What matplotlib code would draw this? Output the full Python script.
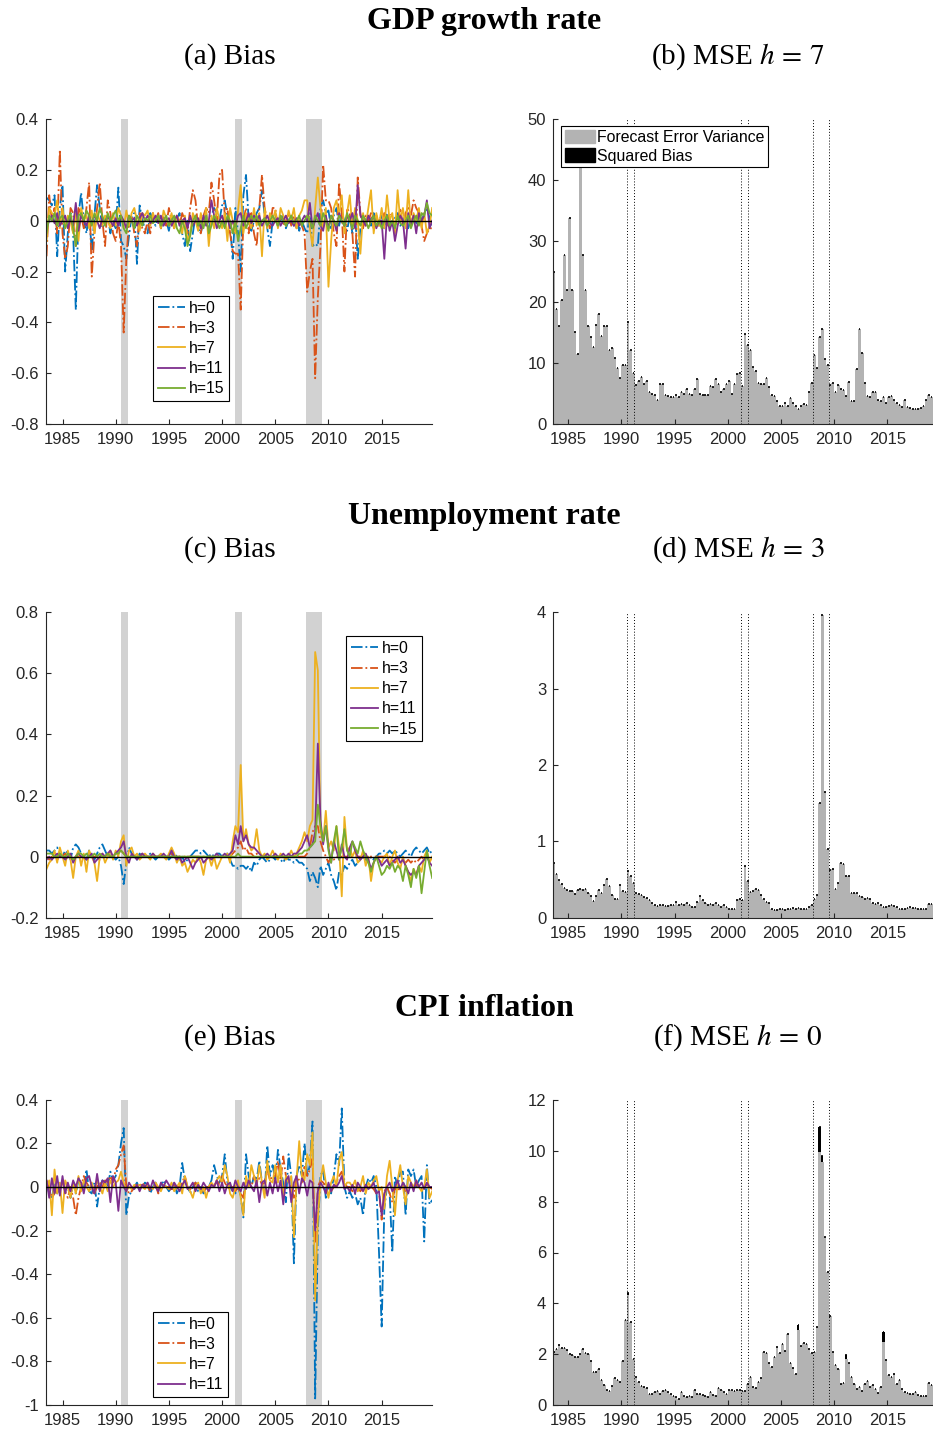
import numpy as np
import matplotlib
matplotlib.use('Agg')
import matplotlib.pyplot as plt
from matplotlib.patches import Patch

plt.rcParams['font.family'] = 'Liberation Sans'
plt.rcParams['mathtext.fontset'] = 'stix'
plt.rcParams['axes.unicode_minus'] = False

W, H = 933, 1431

# quarterly dates of the bias lines, 1983Q3 .. 2019Q4
dates = 1983.5 + 0.25 * np.arange(146)
# quarterly bars of the MSE panels
bar_dates = 1983.5 + 0.25 * np.arange(144)

rec_start = [1990.5, 2001.17, 2007.92]
rec_end = [1991.17, 2001.83, 2009.42]

labels5 = ['h=0', 'h=3', 'h=7', 'h=11', 'h=15']

# ---------------- GDP growth: bias by horizon (x 0.01) ----------------
gdp_h0 = np.array([9, 8, 6, 10, -14, 5, 14, -20, -5, 3, -5, -35, 2, 11, 0, -5, 3, -12,
    2, 14, 5, -3, 0, 2, -5, 0, -3, 13, -8, -10, -15, -6, 2, 3, -17, 6, 0, -3,
    -5, 3, 0, -2, 2, -3, 1, 0, -4, 2, -2, 0, 3, -5, -10, 0, -12, -5, 2, -3,
    -5, 0, 3, -4, 2, 5, 3, 0, 6, 8, 2, -2, -15, 5, -5, -20, 10, 18, 0, -4,
    0, 3, 5, 12, 2, -3, -10, 0, 3, -2, 0, 2, -3, 0, 2, -2, 1, -4, 0, -3,
    -5, 3, -10, -9, -10, 5, 8, 3, 4, -3, 2, 5, -2, 3, 0, -4, 2, -5, 3, -15,
    -3, 2, 0, 2, -2, 3, -1, 0, 2, -3, 3, 0, -2, 1, 3, -2, 0, 2, -3, 1,
    2, -1, 3, 0, 3, 5, 1, -2]) / 100
gdp_h3 = np.array([-14, 10, 0, 5, -5, 28, -5, -15, -10, 5, 3, -10, 5, 2, -3, 5, 15, -22,
    -5, 5, 15, 0, -10, 8, 3, -5, -8, 0, -10, -44, -15, 0, 2, -5, -10, 3, -3, -5,
    0, -5, 3, 0, 3, -3, 2, -2, 5, 0, -3, 2, -2, 3, 0, -5, 5, 12, 8, -3,
    -5, 2, 5, 3, 15, 8, 0, 18, 20, 2, 5, -5, -12, -13, -13, -35, 0, 5, -5, 3,
    -5, -10, 5, 18, 5, 0, -3, 5, 5, -3, 2, -2, 0, 3, -2, 2, -3, 0, -2, -5,
    -28, -20, -15, -62, -30, -10, 22, 8, 8, 5, -5, -10, 15, 3, -20, 5, 3, -5, -22, 17,
    3, -3, 2, 0, 3, -3, 2, -2, 0, 3, -2, 3, 2, -3, 0, 5, -2, 3, 5, 2,
    8, 5, 3, -2, -8, -5, -3, -3]) / 100
gdp_h7 = np.array([-8, 5, 3, 2, 8, -3, 5, -3, 2, 0, -5, 3, -8, 5, 0, 2, -3, 4,
    -5, 3, 0, -2, 2, 0, -3, 3, -2, 5, 2, -3, 4, -2, 3, 5, 0, -4, 3, 2,
    4, -2, 3, 0, 2, -3, 4, 1, -2, 3, -3, 2, 0, -5, 2, -8, -5, 3, 0, -4,
    3, -2, 5, -10, 2, -3, 5, 0, -3, 3, -8, 5, 0, -5, 4, 14, -5, 3, 0, -3,
    5, -2, 3, -14, 5, -3, 3, 0, 4, -3, 5, 2, -2, 4, 0, 5, -3, 2, 4, 8,
    8, -3, -10, 5, 17, 5, -3, 5, -26, -8, 5, 8, 2, 10, -5, 3, 10, -3, 5, 0,
    -13, 3, -2, 5, 12, -5, 3, -2, 5, -3, 10, 0, 3, -5, 12, 0, 5, -3, 12, -2,
    3, 0, 5, -3, 3, -5, -2, 5]) / 100
gdp_h11 = np.array([-3, 0, 2, -1, 3, -2, 0, 2, -3, 1, -2, 7, -4, 2, 0, -2, 2, -1,
    2, 0, -3, 1, -1, 2, 0, -2, 1, -2, 2, 0, -3, 2, 0, 1, -2, 1, 3, 0,
    2, -1, 0, 2, -1, 2, -2, 0, 1, -2, 0, 2, -2, 0, 1, -3, 2, -2, 0, 1,
    -3, 2, -2, 0, 8, 2, -3, 0, 2, -2, 1, -3, 0, -2, 2, 3, -2, 0, 3, -1,
    2, 0, 2, -2, 0, 2, -1, -2, 0, 1, -2, 0, 2, -1, 0, -2, 1, -2, 0, 2,
    0, 7, -3, 0, 3, -2, -4, 2, -3, 2, 0, -4, 3, 0, -2, 2, 0, 3, -3, 14,
    2, 0, -2, 2, 0, 2, -3, 0, 0, -15, 2, -4, 0, -8, -2, 2, 0, -11, 3, -2,
    2, -5, 3, 0, 2, 8, -3, 0]) / 100
gdp_h15 = np.array([-5, 2, 0, 3, -2, 1, 2, -3, 0, 3, -3, -10, 2, 3, 0, 4, 2, -2,
    3, 0, 5, 2, -2, 3, 0, 2, 4, 0, 2, -3, -5, 2, 0, -3, 2, 0, -2, 1,
    0, 2, -1, 0, 2, -2, 0, 2, -2, 0, 2, -3, -5, 0, -3, -10, -6, 0, 2, -2,
    0, -3, 2, -5, -2, 2, 0, -3, 0, -3, 2, 0, -5, 0, -8, -3, 2, -3, 0, 2,
    0, 2, -2, 0, 1, -2, 0, 2, 0, -2, 2, 0, -2, 0, 2, -1, 0, 2, -2, 0,
    2, 0, -3, 2, 0, -2, 3, 0, -4, 2, 0, -2, 2, 0, -2, 3, 0, -3, 2, 0,
    -2, 2, 0, -3, 0, 2, -2, 0, -3, 0, 2, -2, 0, -3, 2, -1, -2, 0, 2, -3,
    0, 2, -2, 3, 2, 7, 3, 2]) / 100

# ---------------- Unemployment: bias by horizon (x 0.01) ----------------
un_h0 = np.array([2, 2, 1, 2, 3, 1, 0, 2, 1, -1, 3, 4, 3, 1, 0, -1, 2, 0,
    -1, 1, 3, 4, 2, 0, 1, 0, -1, 0, -3, -9, -2, 3, 1, 0, -1, 1, 0, 0,
    0, 1, 0, -1, 0, 1, 0, 0, -1, 0, 1, 0, -1, 0, -2, -1, 0, 1, 2, 2,
    1, 2, 1, 0, 1, 0, 1, 1, 0, 1, 1, -1, -3, -3, -4, -3, -3, -4, -3, -5,
    -2, -3, -1, 0, -1, -2, -1, 0, -1, 0, -1, -2, 0, -1, -1, -2, -1, -2, -2, -3,
    -4, -8, -5, -7, -10, -3, -6, -4, -2, -6, -8, -11, -5, -6, -3, -4, -2, -1, -3, -2,
    -1, 0, -1, -2, 0, -1, 0, 1, 1, 2, 1, 2, 1, 2, 1, 0, 1, 2, 1, 0,
    2, 3, 2, 1, 2, 3, 1, 2]) / 100
un_h3 = np.array([0, -1, 0, 0, -1, 0, 0, 1, 0, 0, -1, 0, 0, 0, 0, 0, 1, 0,
    0, 0, -1, 0, 0, 1, 0, 0, 0, 1, 2, 1, 0, 0, 0, 0, 0, 0, 1, 0,
    0, 0, 0, 0, 0, 0, 0, 0, 0, 1, 0, 0, 0, 0, 0, 0, 0, 0, 0, 0,
    0, 0, 0, 0, 0, 0, 0, 0, 0, 0, 0, 0, 1, 2, 3, 5, 2, 3, 1, 1,
    0, 1, 0, 0, 0, 0, 0, 0, 0, 0, 0, 0, 0, 0, 0, 0, 0, 0, 0, 0,
    1, 3, 8, 10, 10, 5, 2, 0, -2, 0, -1, 0, 0, 0, 0, 0, 0, 0, 0, 0,
    0, 0, 0, 0, 0, 0, 0, 0, 0, 0, 0, 0, -1, -2, -1, 0, -1, -2, -1, -2,
    -1, -2, -1, 0, -1, 0, 0, -1]) / 100
un_h7 = np.array([-4, -2, -1, 2, -2, 3, 0, -3, 2, -1, -7, 0, 2, -3, 1, -5, 2, 0,
    -2, -8, 0, 1, -2, 0, 2, -1, 2, 0, 5, 7, -3, 2, 3, 0, 1, -1, 0, 1,
    0, -1, 1, 0, 0, 1, 0, -1, 1, 3, 1, -2, 0, -3, -2, -5, -3, -1, -2, 0,
    -2, -6, -1, 0, -3, 0, -4, -2, 0, 0, 1, -2, 5, 10, 8, 30, 5, 9, 4, 2,
    3, 9, 2, 0, 1, -1, 0, 2, 0, -1, 1, 0, -1, 0, 2, 0, 1, 3, 5, 8,
    5, 10, 12, 67, 61, 8, 5, 15, 3, 5, 2, 10, 3, -13, 13, 2, 3, 0, 2, -2,
    -1, 2, -3, 0, -8, -2, 0, -1, -2, 0, 1, -3, 0, 2, -2, -4, 0, -3, -5, -8,
    -4, -6, -3, -5, 0, 2, -2, 0]) / 100
un_h11 = np.array([-1, 0, -1, 0, 1, 0, 0, -1, 0, 1, -2, 0, 1, 0, 0, -1, 0, 1,
    -2, -1, 0, 1, 0, 1, 2, 0, 1, 2, 3, 5, 0, -2, 1, 0, -1, 0, 1, 0,
    0, 0, 1, 0, 0, 0, 1, 0, 0, 2, 0, -1, 0, -2, -1, 0, -2, -4, -2, -1,
    0, -2, -1, 0, -1, 0, 1, 0, 0, 1, 0, 1, 2, 7, 4, 10, 5, 7, 4, 3,
    3, 2, 1, 0, 0, 1, 0, 0, 1, 0, 0, 1, 0, 1, 0, 1, 1, 2, 3, 5,
    7, 3, 4, 8, 37, 12, 4, 10, 3, -2, 5, 2, -1, 4, 0, -1, 3, 5, 2, 0,
    -1, 0, 1, -1, -4, -2, 0, -1, -3, -2, -1, -3, -2, -1, 0, -2, -1, -3, -5, -6,
    -5, -6, -3, -2, -1, 0, -2, -3]) / 100
un_h15 = np.array([1, 1, 1, 0, 0, 1, 0, 0, 1, 0, -1, 0, 1, 1, 0, 1, 0, 0,
    1, 0, 1, 0, 0, 1, 0, 0, 1, 1, 2, 1, 0, 0, 0, 0, 0, 0, 0, 0,
    0, 0, 0, 0, 0, 0, 0, 0, 0, 0, 0, 0, 0, 0, 0, 0, 0, 0, 0, 0,
    0, 0, 0, 0, 0, 0, 0, 0, 0, 0, 0, 0, 0, 0, 1, 0, 0, 0, 0, 0,
    0, 0, 0, 0, 0, 0, 0, 0, 0, 0, 0, 0, 0, 0, 0, 0, 0, 1, 1, 2,
    2, 3, 4, 5, 17, 10, 5, 10, 2, -2, 5, 10, -1, 3, 9, 2, 0, 5, 3, 1,
    5, 2, 0, -2, -5, -2, 0, -3, -6, -5, -3, -4, -2, -5, -3, -4, -8, -3, -6, -10,
    -4, -7, -3, -12, -5, 2, -3, -7]) / 100

# ---------------- CPI inflation: bias by horizon (x 0.01) ----------------
cpi_h0 = np.array([2, -3, -5, 2, -3, 0, 3, -2, 0, -5, 2, -3, 3, 0, 0, 8, -2, -3,
    2, -9, 0, 3, 2, 0, 7, 3, 5, 10, 20, 27, -13, -4, -2, 0, 2, -1, 0, 2,
    1, -3, 0, 2, -2, 1, 3, 0, -2, 0, 2, -3, 0, 11, 3, 0, -3, 0, 2, -2,
    0, -3, -2, 0, 3, 10, 5, 2, 5, 15, 2, 0, -2, -3, 0, -4, -14, 15, 5, 0,
    5, 3, 12, 2, -3, 19, 5, 10, 3, 17, 8, 2, -7, 15, 5, -35, 5, 10, 5, 20,
    5, 10, 30, -97, -20, 5, 8, -5, 0, -3, 5, 15, 10, 36, 0, -5, -2, -5, -3, -8,
    -5, -13, 0, 4, 2, 5, 0, -30, -64, -10, 0, -3, -30, 5, 0, 7, 7, -13, 8, 5,
    8, 0, 3, 5, -25, 10, -8, -6]) / 100
cpi_h3 = np.array([3, 0, -5, -3, 0, 2, 2, -2, -5, 0, -5, -13, -5, 0, 5, 2, 0, -2,
    -3, 0, 2, 0, 3, 2, 5, 2, 8, 10, 15, 19, 0, -3, -2, 0, 1, 0, 2, 0,
    0, -2, 0, 1, -3, 0, 1, 0, 0, -2, 1, 0, 0, 2, 5, 0, -1, 0, 2, 0,
    -2, -3, 0, 0, 2, 0, 3, 1, 5, 2, 0, -1, 0, -2, 0, -3, -5, 3, 2, 0,
    5, 2, 4, 1, 2, 8, 3, 5, 5, 12, 3, 14, 5, 3, 0, -5, 5, 3, 2, 10,
    5, 8, 13, -26, 0, 3, 2, 0, 0, -2, 0, 2, 5, 7, 2, 0, 0, -2, 1, 0,
    -2, 0, -1, 0, 0, -1, -3, -2, -15, -2, 0, -3, -7, 0, -2, 0, 0, -2, 0, 1,
    0, 1, 0, -1, 0, 1, 0, -1]) / 100
cpi_h7 = np.array([0, 3, -13, 8, -3, 2, -12, 3, 0, -5, 2, -3, 5, -2, 3, 0, -2, 2,
    -2, 3, 0, -3, 2, -2, 3, 0, 2, 3, 7, 2, -2, 0, -1, 1, 0, 1, 0, -1,
    1, 0, -1, 2, 0, -2, 1, 0, -1, 2, -2, 0, 2, -3, 5, 0, -2, -5, 0, 2,
    -3, 0, -5, 0, 2, 0, 3, 5, 2, 10, 5, -3, -5, 0, 3, -5, -13, 5, 0, 10,
    5, 0, 10, 2, -5, 12, 3, 2, 10, 2, 10, -5, 5, 2, 5, -23, 3, 21, 5, 3,
    15, 10, 25, -52, -15, 3, 10, 2, -5, 2, 5, 0, 12, 16, 0, 2, 2, 0, 3, -2,
    0, 5, -3, 2, 0, 3, 5, -2, 0, -10, 5, 12, 0, -13, 3, 10, 0, -8, 5, 2,
    0, 3, 0, -2, 0, 8, -5, -2]) / 100
cpi_h11 = np.array([3, -5, 4, -3, 5, -4, 5, -3, 2, -2, 3, 0, 4, 2, -3, 4, 5, 0,
    -3, 6, -2, 3, 2, 4, -7, 5, 2, -11, 3, 0, -2, 2, 0, -1, 1, -2, 1, 0,
    2, -1, 3, 0, -2, 2, 0, 3, 1, -1, 2, 0, -2, 1, 3, -1, 0, 2, -2, 1,
    -1, 2, 0, -2, 1, 0, 3, -2, 2, -3, 1, 2, -2, 3, 0, -2, 2, -1, 3, 0,
    -2, 3, -7, 2, 3, -4, 2, -3, 4, -2, 3, -8, 3, 5, -7, 2, 5, -3, 4, 2,
    -4, 3, 2, -20, -2, 2, 0, -3, 2, -2, 1, 0, 2, 5, -1, 0, -2, 1, -3, 2,
    0, -2, 1, -1, 0, 2, -3, -2, -13, -3, 0, 2, -2, 0, 3, -1, 2, 0, -3, 2,
    -2, 3, 0, 2, -1, 2, 0, 0]) / 100

# ---------------- MSE bars ----------------
mse_gdp = np.array([25, 18.8, 16, 20.4, 27.7, 22, 33.7, 22, 15.1, 11.4, 45, 27.7, 22, 16,
    14.3, 12.7, 16.2, 18, 14.4, 16.1, 16.1, 12.2, 12.4, 10.9, 9.1, 7.5, 9.7, 9.7, 16.8,
    12.2, 8.4, 6.4, 7.0, 7.7, 6.5, 7.0, 5.3, 5.0, 4.8, 4.0, 6.5, 6.5, 4.8, 4.6,
    4.4, 4.5, 4.7, 4.5, 5.3, 5.0, 5.8, 5.0, 4.8, 5.8, 7.3, 5.0, 4.8, 4.8, 4.8,
    6.3, 6.0, 7.4, 6.5, 5.2, 5.8, 6.5, 7.0, 5.0, 6.5, 8.2, 8.3, 6.2,
    14.8, 13, 12.1, 9.4, 8.7, 6.7, 6.6, 6.6, 7.5, 6.1, 4.8, 4.6, 3.7, 3.0, 3.0,
    3.5, 3.0, 4.2, 3.4, 3.0, 2.5, 3.0, 3.3, 3.1, 5.3, 6.7, 11.3, 9.1, 14.2, 15.6,
    10.7, 9.6, 6.4, 6.8, 5.2, 6.4, 5.8, 5.6, 4.6, 6.9, 3.8, 3.8, 9.0, 15.5, 11.7,
    6.8, 4.6, 4.4, 5.3, 5.3, 3.9, 3.8, 4.5, 3.5, 4.5, 4.6, 3.9, 3.5, 3.1, 2.8,
    4.0, 2.8, 2.6, 2.5, 2.5, 2.4, 2.6, 3.0, 3.9, 4.8, 4.5, 4.2])
mse_un = np.array([0.71, 0.57, 0.49, 0.44, 0.39, 0.36, 0.35, 0.35, 0.31, 0.36,
    0.37, 0.36, 0.38, 0.33, 0.28, 0.22, 0.28, 0.36, 0.32, 0.43,
    0.51, 0.41, 0.30, 0.24, 0.24, 0.43, 0.35, 0.34, 0.61, 0.55,
    0.46, 0.33, 0.31, 0.30, 0.27, 0.26, 0.23, 0.19, 0.16, 0.15,
    0.17, 0.16, 0.15, 0.15, 0.16, 0.17, 0.21, 0.17, 0.18, 0.17,
    0.19, 0.17, 0.14, 0.14, 0.20, 0.28, 0.23, 0.19, 0.17, 0.18,
    0.17, 0.19, 0.17, 0.14, 0.16, 0.14, 0.12, 0.12, 0.12, 0.23,
    0.25, 0.23, 0.68, 0.48, 0.34, 0.35, 0.38, 0.36, 0.30, 0.25,
    0.21, 0.19, 0.12, 0.10, 0.10, 0.11, 0.11, 0.10, 0.11, 0.12,
    0.13, 0.12, 0.13, 0.12, 0.12, 0.11, 0.14, 0.17, 0.25, 0.30,
    1.50, 3.96, 1.65, 0.90, 0.62, 0.64, 0.37, 0.46, 0.72, 0.70,
    0.54, 0.54, 0.33, 0.33, 0.33, 0.28, 0.27, 0.25, 0.26, 0.25,
    0.19, 0.18, 0.19, 0.16, 0.14, 0.14, 0.15, 0.17, 0.15, 0.14,
    0.12, 0.12, 0.12, 0.13, 0.14, 0.13, 0.13, 0.12, 0.11, 0.11,
    0.12, 0.18, 0.18, 0.18])
mse_cpi = np.array([2.1, 2.2, 2.35, 2.25, 2.25, 2.15, 2.0, 1.95, 1.9, 1.9,
    2.0, 2.2, 2.05, 2.0, 1.75, 1.3, 1.3, 1.4, 1.0, 0.8,
    0.6, 0.55, 0.75, 1.05, 1.0, 0.9, 1.75, 3.35, 4.4, 3.25,
    1.8, 1.1, 0.9, 0.75, 0.7, 0.65, 0.45, 0.45, 0.5, 0.55,
    0.45, 0.55, 0.6, 0.5, 0.45, 0.35, 0.3, 0.25, 0.5, 0.35,
    0.3, 0.35, 0.3, 0.6, 0.45, 0.45, 0.4, 0.35, 0.3, 0.5,
    0.4, 0.35, 0.65, 0.6, 0.5, 0.45, 0.6, 0.6, 0.55, 0.6,
    0.6, 0.56, 0.56, 0.83, 1.09, 0.72, 0.65, 0.92, 1.05, 2.1,
    2.03, 1.67, 1.5, 1.88, 2.27, 2.06, 2.4, 2.14, 2.79, 1.64,
    1.47, 1.22, 3.13, 2.32, 2.43, 2.39, 2.19, 2.03, 2.1, 3.06,
    10.95, 9.8, 6.62, 5.22, 3.5, 2.07, 1.56, 1.43, 0.83, 0.88,
    1.95, 1.64, 1.09, 0.83, 0.62, 0.72, 0.55, 0.83, 0.94, 0.7,
    0.79, 0.62, 0.46, 0.72, 2.89, 1.77, 1.18, 1.11, 1.22, 0.83,
    1.0, 0.62, 0.52, 0.49, 0.43, 0.43, 0.51, 0.39, 0.35, 0.37,
    0.36, 0.85, 0.8, 0.8])
# squared bias part of the MSE (mostly negligible)
sqb_gdp = np.zeros(144)
sqb_un = np.zeros(144)
sqb_cpi = np.zeros(144)
sqb_cpi[[28, 92, 100, 101, 110, 124]] = [0.08, 0.16, 1.0, 0.25, 0.15, 0.43]

colors = ['#0072BD', '#D95319', '#EDB120', '#7E2F8E', '#77AC30']
styles = ['-.', '-.', '-', '-', '-']
AXC = '#262626'


def add_ax(x0, x1, y0, y1):
    return fig.add_axes([x0 / W, 1 - y1 / H, (x1 - x0) / W, (y1 - y0) / H])


def style_ax(ax, yticks, xlim):
    ax.set_xlim(*xlim)
    ax.set_xticks([1985, 1990, 1995, 2000, 2005, 2010, 2015])
    ax.set_yticks(yticks)
    ax.set_yticklabels(['%g' % (round(v, 2) + 0.0) for v in yticks])
    for s in ['top', 'right']:
        ax.spines[s].set_visible(False)
    for s in ['left', 'bottom']:
        ax.spines[s].set_color(AXC)
        ax.spines[s].set_linewidth(0.8)
    ax.tick_params(direction='in', length=3.5, width=0.8, colors=AXC,
                   labelsize=12, labelcolor=AXC)
    ax.tick_params(axis='y', pad=5)
    ax.tick_params(axis='x', pad=6)


def bias_panel(ax, series, ylim, yticks, anchor):
    for s, e in zip(rec_start, rec_end):
        ax.axvspan(s, e, color='#d2d2d2', lw=0, zorder=0)
    for i, vals in enumerate(series):
        ax.plot(dates, vals, color=colors[i], ls=styles[i], lw=1.3,
                label=labels5[i], zorder=2)
    ax.axhline(0, color='black', lw=1.0, zorder=3)
    ax.set_ylim(*ylim)
    style_ax(ax, yticks, (1983.42, 2019.76))
    leg = ax.legend(loc='upper left', bbox_to_anchor=anchor, borderaxespad=0,
                    fontsize=11.3, handlelength=1.75, handletextpad=0.2,
                    labelspacing=0.33, borderpad=0.3, fancybox=False,
                    framealpha=1, edgecolor='black')
    leg.get_frame().set_linewidth(0.8)


def mse_panel(ax, total, sqb, ylim, yticks, legend=False):
    var = total - sqb
    ax.bar(bar_dates, var, width=0.26, align='edge', color='#b3b3b3', lw=0, zorder=1)
    ax.bar(bar_dates + 0.02, sqb, width=0.22, bottom=var, align='edge',
           color='black', lw=0, zorder=2)
    # thin black cap of the (small) squared bias on every bar
    ax.hlines(total, bar_dates + 0.06, bar_dates + 0.22, color='black', lw=1.2, zorder=2)
    for d in [1990.55, 1991.2, 2001.2, 2001.87, 2007.97, 2009.47]:
        ax.axvline(d, color='black', ls=(0, (1, 2)), lw=0.7, zorder=3)
    ax.set_ylim(*ylim)
    style_ax(ax, yticks, (1983.6, 2019.94))
    if legend:
        handles = [Patch(color='#b3b3b3'), Patch(color='black')]
        leg = ax.legend(handles, ['Forecast Error Variance', 'Squared Bias'],
                        loc='upper left', bbox_to_anchor=(0.02, 0.976),
                        borderaxespad=0, fontsize=11.4, handlelength=1.9,
                        handleheight=0.9, handletextpad=0.1, labelspacing=0.2,
                        borderpad=0.25, fancybox=False, framealpha=1,
                        edgecolor='black')
        leg.get_frame().set_linewidth(0.8)
        leg.set_zorder(5)


fig = plt.figure(figsize=(W / 100, H / 100), dpi=100)

ax_a = add_ax(45.7, 432.3, 119, 424)
bias_panel(ax_a, [gdp_h0, gdp_h3, gdp_h7, gdp_h11, gdp_h15], (-0.8, 0.4),
           np.arange(-0.8, 0.41, 0.2), (0.278, 0.42))
ax_b = add_ax(553.3, 939.9, 119, 424)
mse_panel(ax_b, mse_gdp, sqb_gdp, (0, 50), np.arange(0, 51, 10), legend=True)

ax_c = add_ax(45.7, 432.3, 612.3, 917.7)
bias_panel(ax_c, [un_h0, un_h3, un_h7, un_h11, un_h15], (-0.2, 0.8),
           np.arange(-0.2, 0.81, 0.2), (0.777, 0.922))
ax_d = add_ax(553.3, 939.9, 612.3, 917.7)
mse_panel(ax_d, mse_un, sqb_un, (0, 4), np.arange(0, 5, 1))

ax_e = add_ax(45.7, 432.3, 1099.7, 1405)
bias_panel(ax_e, [cpi_h0, cpi_h3, cpi_h7, cpi_h11], (-1, 0.4),
           np.arange(-1.0, 0.41, 0.2), (0.278, 0.305))
ax_f = add_ax(553.3, 939.9, 1100, 1405)
mse_panel(ax_f, mse_cpi, sqb_cpi, (0, 12), np.arange(0, 13, 2))

# headings
def ftext(x, y, s, **kw):
    fig.text(x / W, 1 - y / H, s, ha='center', va='center',
             family='Liberation Serif', **kw)

ftext(484, 22, 'GDP growth rate', fontsize=23, fontweight='bold')
ftext(230, 57, '(a) Bias', fontsize=21)
ftext(738, 57, '(b) MSE $h\\,=\\,7$', fontsize=21)
ftext(484, 516, 'Unemployment rate', fontsize=23, fontweight='bold')
ftext(230, 550, '(c) Bias', fontsize=21)
ftext(738, 550, '(d) MSE $h\\,=\\,3$', fontsize=21)
ftext(484, 1008, 'CPI inflation', fontsize=23, fontweight='bold')
ftext(230, 1038, '(e) Bias', fontsize=21)
ftext(738, 1038, '(f) MSE $h\\,=\\,0$', fontsize=21)

fig.savefig('out.png', dpi=100)
